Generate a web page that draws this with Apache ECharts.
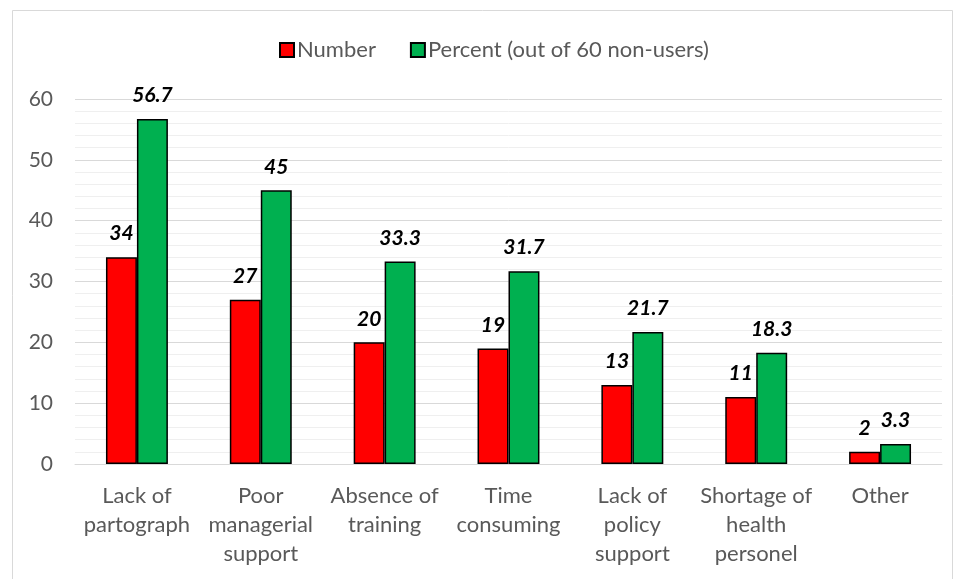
<!DOCTYPE html>
<html>
<head>
<meta charset="utf-8">
<script src="https://cdn.jsdelivr.net/npm/echarts@6/dist/echarts.min.js"></script>
<style>
html,body{margin:0;padding:0;background:#fff;}
#chart{width:957px;height:579px;}
</style>
</head>
<body>
<div id="chart"></div>
<script>
const categories = ["Lack of\npartograph", "Poor\nmanagerial\nsupport", "Absence of\ntraining", "Time\nconsuming", "Lack of\npolicy\nsupport", "Shortage of\nhealth\npersonel", "Other"];
const numberValues = [34, 27, 20, 19, 13, 11, 2];
const percentValues = [56.7, 45, 33.3, 31.7, 21.7, 18.3, 3.3];
const seriesNames = ["Number", "Percent (out of 60 non-users)"];
const yTicks = {min: 0, max: 60, interval: 10};

const FONT = "Lato, 'Liberation Sans', sans-serif";
const chart = echarts.init(document.getElementById('chart'), null, {renderer: 'canvas'});
const labelStyle = {
  show: true, position: 'top', distance: 13,
  fontFamily: FONT, fontSize: 21, fontWeight: 'bold', fontStyle: 'italic', color: '#000'
};
chart.setOption({
  animation: false,
  backgroundColor: '#fff',
  graphic: [{
    type: 'rect', left: 10, top: 8,
    shape: {width: 940, height: 580},
    style: {fill: 'none', stroke: '#d9d9d9', lineWidth: 1}
  }],
  legend: {
    top: 34, left: 274, itemGap: 34, itemWidth: 14, itemHeight: 14,
    textStyle: {fontFamily: FONT, fontSize: 22, color: '#595959', padding: [0, 0, 0, -2]},
    data: seriesNames.map(n => ({name: n, icon: 'rect'}))
  },
  grid: {left: 75, right: 15, top: 99, bottom: 115},
  xAxis: {
    type: 'category', data: categories,
    axisLine: {lineStyle: {color: '#d9d9d9', width: 1}},
    axisTick: {show: false},
    axisLabel: {fontFamily: FONT, fontSize: 22, color: '#595959', lineHeight: 29, margin: 17, interval: 0}
  },
  yAxis: {
    type: 'value', min: yTicks.min, max: yTicks.max, interval: yTicks.interval,
    axisLine: {show: false}, axisTick: {show: false},
    axisLabel: {fontFamily: FONT, fontSize: 21, color: '#595959', margin: 22},
    splitLine: {lineStyle: {color: '#d9d9d9', width: 1}},
    minorTick: {show: false, splitNumber: 5},
    minorSplitLine: {show: true, lineStyle: {color: '#efefef', width: 1}}
  },
  series: [
    {
      name: seriesNames[0], type: 'bar', data: numberValues,
      barGap: '0%', barCategoryGap: '50%',
      itemStyle: {color: '#ff0000', borderColor: '#000', borderWidth: 1.5},
      label: labelStyle
    },
    {
      name: seriesNames[1], type: 'bar', data: percentValues,
      itemStyle: {color: '#00b050', borderColor: '#000', borderWidth: 1.5},
      label: labelStyle
    }
  ]
});
</script>
</body>
</html>
